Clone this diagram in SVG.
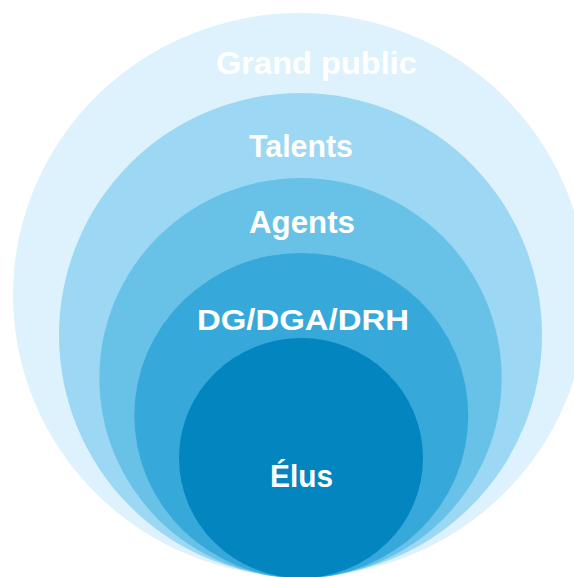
<svg xmlns="http://www.w3.org/2000/svg" width="574" height="577" viewBox="0 0 574 577">
  <style>
    .lbl { font-family: "Liberation Sans", "DejaVu Sans", sans-serif; font-weight: bold; fill: #ffffff; text-anchor: middle; }
  </style>
  <rect width="574" height="577" fill="#ffffff"/>
  <!-- nested audience rings, all touching at the bottom -->
  <g id="grand-public">
    <ellipse cx="300" cy="295" rx="287" ry="282" fill="#ddf2fc"/>
    <text class="lbl" x="316.5" y="74" font-size="32" textLength="201" lengthAdjust="spacingAndGlyphs">Grand public</text>
  </g>
  <g id="talents">
    <ellipse cx="300.5" cy="335" rx="241.5" ry="242" fill="#9cd8f3"/>
    <text class="lbl" x="301" y="157" font-size="32" textLength="104" lengthAdjust="spacingAndGlyphs">Talents</text>
  </g>
  <g id="agents">
    <ellipse cx="300.5" cy="378" rx="201.2" ry="200" fill="#68c2e7"/>
    <text class="lbl" x="302" y="233" font-size="32" textLength="106" lengthAdjust="spacingAndGlyphs">Agents</text>
  </g>
  <g id="dg-dga-drh">
    <ellipse cx="301.3" cy="415.5" rx="167" ry="162.5" fill="#36a9da"/>
    <text class="lbl" x="303" y="330" font-size="30" textLength="212" lengthAdjust="spacingAndGlyphs">DG/DGA/DRH</text>
  </g>
  <g id="elus">
    <ellipse cx="301" cy="458" rx="122" ry="120" fill="#0385c0"/>
    <text class="lbl" x="301.5" y="486.5" font-size="32" textLength="63" lengthAdjust="spacingAndGlyphs">Élus</text>
  </g>
</svg>
